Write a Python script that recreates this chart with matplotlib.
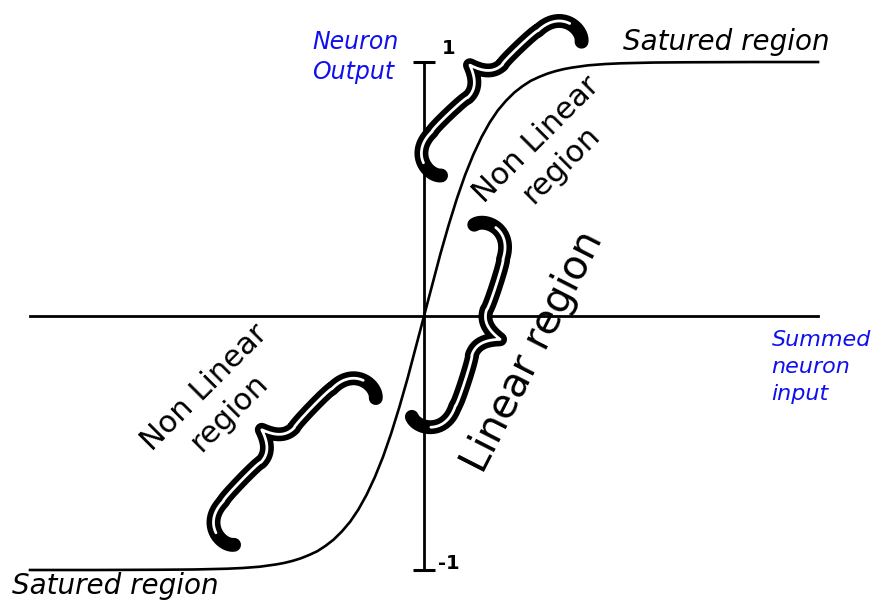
import matplotlib
matplotlib.use("Agg")
import matplotlib.pyplot as plt
import matplotlib.transforms as mtransforms
import numpy as np

# activation curve (tanh shape)
x_in = [-6.0, -5.0, -4.0, -3.5, -3.0, -2.75, -2.5, -2.25, -2.125, -2.0,
        -1.875, -1.75, -1.625, -1.5, -1.375, -1.25, -1.125, -1.0, -0.875,
        -0.75, -0.625, -0.5, -0.375, -0.25, 0.0, 0.25, 0.375, 0.5, 0.625,
        0.75, 0.875, 1.0, 1.125, 1.25, 1.375, 1.5, 1.625, 1.75, 1.875, 2.0,
        2.125, 2.25, 2.5, 2.75, 3.0, 3.5, 4.0, 5.0, 6.0]
y_out = [-1.0, -1.0, -0.999, -0.998, -0.995, -0.992, -0.987, -0.978, -0.972,
         -0.964, -0.954, -0.941, -0.926, -0.905, -0.880, -0.848, -0.810,
         -0.762, -0.704, -0.635, -0.555, -0.462, -0.358, -0.245, 0.0, 0.245,
         0.358, 0.462, 0.555, 0.635, 0.704, 0.762, 0.810, 0.848, 0.880,
         0.905, 0.926, 0.941, 0.954, 0.964, 0.972, 0.978, 0.987, 0.992,
         0.995, 0.998, 0.999, 1.0, 1.0]
y_ticks = [-1, 1]
y_tick_labels = ["-1", "1"]

FONT = "DejaVu Sans"
BLUE = "#1010ee"

plt.rcParams["font.family"] = [FONT]


def bezier(p, n=40):
    p = np.asarray(p, dtype=float)
    t = np.linspace(0, 1, n)[:, None]
    return ((1 - t) ** 3 * p[0] + 3 * (1 - t) ** 2 * t * p[1]
            + 3 * (1 - t) * t ** 2 * p[2] + t ** 3 * p[3])


def brace_shape(h, d=22.0, hook=38.0):
    """curly brace in pixel units: cusp on +v, hooks curl to -v"""
    a = h - 30
    segs = [
        [(-(h - 6), -hook), (-(h + 4), -30), (-(h + 2), 0), (-a, 0)],
        [(-a, 0), (-a, 2), (-24, 2), (-24, 0)],
        [(-24, 0), (-10, 0), (-4, d * 0.5), (0, d)],
        [(0, d), (4, d * 0.5), (10, 0), (24, 0)],
        [(24, 0), (24, 2), (a, 2), (a, 0)],
        [(a, 0), (h + 2, 0), (h + 4, -30), (h - 6, -hook)],
    ]
    return np.vstack([bezier(s) for s in segs])


def draw_brace(ax, fig, center, angle, h):
    pts = brace_shape(h)
    trans = (mtransforms.Affine2D().rotate_deg(angle).scale(1 / fig.dpi)
             + fig.dpi_scale_trans
             + mtransforms.ScaledTranslation(center[0], center[1], ax.transData))
    ax.plot(pts[:, 0], pts[:, 1], color="black", lw=10, transform=trans,
            solid_capstyle="round", solid_joinstyle="round",
            clip_on=False, zorder=4)
    # white core, trimmed so the hook tips stay solid
    seg = np.hypot(*np.diff(pts, axis=0).T)
    s = np.concatenate([[0], np.cumsum(seg)])
    keep = (s > 22) & (s < s[-1] - 22)
    ax.plot(pts[keep, 0], pts[keep, 1], color="white", lw=2.0,
            transform=trans, solid_capstyle="round",
            solid_joinstyle="round", clip_on=False, zorder=5)


fig = plt.figure(figsize=(8.75, 6.04), dpi=100)
ax = fig.add_axes([0.0343, 0.0563, 0.9006, 0.841])

ax.plot(x_in, y_out, color="black", lw=1.9, clip_on=False, zorder=3)

ax.set_xlim(-6, 6)
ax.set_ylim(-1, 1)
for side in ("top", "right"):
    ax.spines[side].set_visible(False)
for side in ("left", "bottom"):
    ax.spines[side].set_position("zero")
    ax.spines[side].set_linewidth(2.0)
ax.set_xticks([])
ax.set_yticks(y_ticks)
ax.set_yticklabels([])
ax.tick_params(axis="y", direction="inout", length=16, width=2.2)

for v, lab in zip(y_ticks, y_tick_labels):
    ax.text(0.37, v + (0.052 if v > 0 else 0.025), lab, fontsize=14,
            fontweight="bold", ha="center", va="center")

# braces: centre (data), rotation (deg), half length (px)
draw_brace(ax, fig, (0.93, 0.925), 43.6, 103)
draw_brace(ax, fig, (0.84, -0.065), 252.0, 107)
draw_brace(ax, fig, (-2.23, -0.508), 46.0, 108)

ax.text(-1.70, 1.02, "Neuron\nOutput", color=BLUE, fontsize=17,
        style="italic", ha="left", va="center", linespacing=1.3)
ax.text(5.29, -0.20, "Summed\nneuron\ninput", color=BLUE, fontsize=16,
        style="italic", ha="left", va="center", linespacing=1.45)
ax.text(4.60, 1.079, "Satured region", fontsize=20, style="italic",
        ha="center", va="center")
ax.text(-4.70, -1.063, "Satured region", fontsize=20, style="italic",
        ha="center", va="center")
ax.text(1.90, 0.646, "Non Linear\nregion", fontsize=22, rotation=45,
        ha="center", va="center", multialignment="center",
        rotation_mode="anchor", linespacing=1.25)
ax.text(-3.15, -0.331, "Non Linear\nregion", fontsize=22, rotation=45,
        ha="center", va="center", multialignment="center",
        rotation_mode="anchor", linespacing=1.25)
ax.text(1.67, -0.142, "Linear region", fontsize=29, rotation=63,
        ha="center", va="center", rotation_mode="anchor")

fig.savefig("out.png", dpi=100)
